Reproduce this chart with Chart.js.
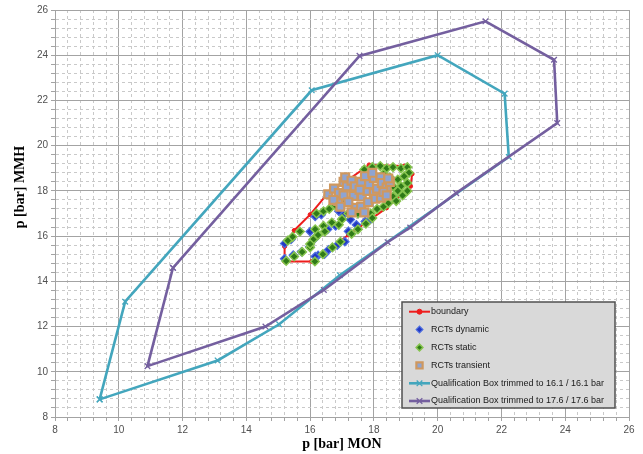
<!DOCTYPE html>
<html><head><meta charset="utf-8">
<script src="https://cdn.jsdelivr.net/npm/chart.js@4.4.1/dist/chart.umd.min.js"></script>
<style>html,body{margin:0;padding:0;background:#fff;}</style>
</head><body>
<canvas id="c" width="643" height="454"></canvas>
<script>
// ---- data ----
const xTitle = 'p [bar] MON';
const yTitle = 'p [bar] MMH';
const labels = ['boundary','RCTs dynamic','RCTs static','RCTs transient',
  'Qualification Box trimmed to 16.1 / 16.1 bar','Qualification Box trimmed to 17.6 / 17.6 bar'];

const boundaryX = [15.2,15.2,16.05,17.2,18.4,19.15,19.2,18.95,17.85,16.5,16.0,15.5,15.2];
const boundaryY = [15.55,14.88,14.88,16.05,17.25,18.2,18.75,19.1,19.15,17.8,16.95,16.25,15.55];

const dynamicX = [15.2,15.2,15.47,15.73,15.99,16.15,16.25,16.58,16.85,17.09,16.16,17.05,17.26,17.2,17.73,16.16,16.55,16.8,16.35,16.9,15.4,17.45,16.0,17.9,16.45];
const dynamicY = [15.67,15.0,15.16,15.31,15.53,15.9,15.15,15.4,15.6,15.75,16.87,16.95,16.73,16.21,16.65,15.1,16.3,16.45,16.95,17.1,15.85,16.5,16.2,16.75,15.2];

const staticX = [17.7,17.95,18.2,18.4,18.6,18.85,19.05,19.1,18.95,18.75,19.05,18.85,18.6,18.75,19.05,18.9,18.6,18.45,18.7,18.3,18.1,17.9,18.5,18.3,
  17.5,17.75,17.95,17.3,16.42,16.6,16.8,17.0,17.2,17.5,16.16,16.42,16.68,16.9,17.0,16.25,16.46,16.1,
  15.25,15.5,15.75,16.0,16.15,16.4,16.7,16.95,15.45,15.68,15.3,16.2,16.0];
const staticY = [18.95,19.05,19.1,19.0,19.05,19.0,19.05,18.8,18.65,18.5,18.35,18.2,18.2,18.0,18.0,17.8,17.75,17.45,17.55,17.3,17.2,17.0,18.6,18.75,
  16.3,16.55,16.8,16.1,17.1,17.2,17.35,17.5,17.0,17.0,16.3,16.45,16.6,16.5,16.75,16.05,16.2,15.85,
  14.9,15.1,15.3,15.5,14.88,15.2,15.5,15.75,15.97,16.2,15.8,17.0,15.65];

const transientX = [16.57,16.75,16.9,16.88,17.05,17.1,17.15,17.05,17.3,17.36,17.4,17.42,17.6,17.62,17.6,17.72,17.8,17.82,17.85,18.0,18.0,18.05,18.1,18.2,18.22,18.25,18.4,18.5,16.73,17.2,17.55,17.3,18.3,16.95,17.7,18.4,17.95,18.45];
const transientY = [17.85,18.1,17.9,17.55,18.4,18.6,18.2,17.8,18.45,17.78,18.2,17.25,18.4,17.75,17.3,18.65,18.0,17.5,18.3,18.57,17.9,17.65,18.1,18.6,17.7,18.35,18.15,18.4,17.6,17.5,18.05,17.05,17.95,17.3,17.05,17.8,18.8,18.55];

const box161X = [9.4,10.2,16.05,20.0,22.1,22.23,16.93,15.03,13.1,9.4];
const box161Y = [8.78,13.1,22.45,24.0,22.3,19.5,14.27,12.1,10.5,8.78];

const box176X = [11.7,17.55,21.5,23.65,23.75,20.58,19.14,18.43,16.43,14.6,10.9,11.7];
const box176Y = [14.6,23.97,25.5,23.8,21.0,17.9,16.38,15.73,13.62,12.0,10.25,14.6];

const axisMin = 8, axisMax = 26, minorStep = 0.4, majorStep = 2;

// ---- helpers ----
const pts = (xs, ys) => xs.map((x, i) => ({x, y: ys[i]}));
const isMajor = v => Math.abs(v / majorStep - Math.round(v / majorStep)) < 1e-6;

const styles = [
  {line:true, color:'#ee1c1c', lw:2, pointStyle:'circle', r:2, bg:'#ee1c1c', bc:'#ee1c1c', bw:1},
  {line:false, pointStyle:'rectRot', r:4.2, bg:'#2338c4', bc:'#4d6fe0', bw:1.2},
  {line:false, pointStyle:'rectRot', r:4.3, bg:'#2f7a18', bc:'#86c44e', bw:1.5},
  {line:false, pointStyle:'rect', r:5.6, bg:'#8ea4d2', bc:'#cf985f', bw:2.2},
  {line:true, color:'#43a6bd', lw:2.6, pointStyle:'crossRot', r:4, bg:'#43a6bd', bc:'#43a6bd', bw:1.3},
  {line:true, color:'#745f9f', lw:2.6, pointStyle:'crossRot', r:4, bg:'#745f9f', bc:'#745f9f', bw:1.3}
];
const legendR = [2.5, 3.4, 3.4, 4.4, 4, 4];
const seriesData = [pts(boundaryX,boundaryY), pts(dynamicX,dynamicY), pts(staticX,staticY),
  pts(transientX,transientY), pts(box161X,box161Y), pts(box176X,box176Y)];
const orders = [5,4,3,2,1,0];

const datasets = seriesData.map((d, i) => {
  const s = styles[i];
  return {
    label: labels[i], data: d, showLine: s.line, order: orders[i],
    borderColor: s.line ? s.color : s.bc, borderWidth: s.lw || 0,
    backgroundColor: s.bg,
    pointStyle: s.pointStyle, pointRadius: s.r, pointBackgroundColor: s.bg,
    pointBorderColor: s.bc, pointBorderWidth: s.bw, tension: 0
  };
});

function axis(isX) {
  return {
    type: 'linear', min: axisMin, max: axisMax,
    afterFit: s => { if (isX) s.height = 37; else s.width = 55; },
    ticks: {
      stepSize: minorStep, autoSkip: false, maxRotation: 0, padding: 3,
      color: '#505050', font: {family: '"Liberation Sans", Arial, sans-serif', size: 10},
      callback: v => isMajor(v) ? String(Math.round(v)) : ''
    },
    grid: {
      color: c => (c.tick && isMajor(c.tick.value)) ? '#a3a3a3' : '#c9c9c9',
      lineWidth: 1, drawTicks: true, tickLength: 4,
      tickColor: '#a3a3a3'
    },
    border: {
      display: true, color: '#a3a3a3', width: 1,
      dash: c => (c.tick && !isMajor(c.tick.value)) ? [3, 3] : []
    }
  };
}

const customPlugin = {
  id: 'custom',
  beforeDraw(chart) {
    const ctx = chart.ctx;
    ctx.save(); ctx.fillStyle = '#fff'; ctx.fillRect(0, 0, chart.width, chart.height); ctx.restore();
  },
  afterDraw(chart) {
    const ctx = chart.ctx, a = chart.chartArea;
    ctx.save();
    // axis titles
    ctx.fillStyle = '#000';
    ctx.font = 'bold 14px "Liberation Serif", "Times New Roman", serif';
    ctx.textAlign = 'center'; ctx.textBaseline = 'middle';
    ctx.fillText(xTitle, (a.left + a.right) / 2, 444);
    ctx.translate(20, 187); ctx.rotate(-Math.PI / 2);
    ctx.fillText(yTitle, 0, 0);
    ctx.restore();

    // legend box
    ctx.save();
    const bx = 402, by = 302, bw = 213, bh = 106;
    ctx.fillStyle = '#d9d9d9';
    ctx.fillRect(bx, by, bw, bh);
    ctx.strokeStyle = '#505050'; ctx.lineWidth = 1.5;
    ctx.strokeRect(bx, by, bw, bh);
    const rowY = [311.7, 329.6, 347.5, 365.4, 383.3, 401.0];
    chart.data.datasets.forEach((ds, i) => {
      const s = styles[i], y = rowY[i];
      if (s.line) {
        ctx.strokeStyle = s.color; ctx.lineWidth = s.lw; ctx.setLineDash([]);
        ctx.beginPath(); ctx.moveTo(409, y); ctx.lineTo(430, y); ctx.stroke();
      }
      ctx.fillStyle = s.bg; ctx.strokeStyle = s.bc; ctx.lineWidth = s.bw;
      Chart.helpers.drawPoint(ctx, {pointStyle: s.pointStyle, radius: legendR[i], rotation: 0, borderWidth: s.bw}, 419.5, y);
      ctx.fillStyle = '#1a1a1a';
      ctx.font = '9px "Liberation Sans", Arial, sans-serif';
      ctx.textAlign = 'left'; ctx.textBaseline = 'middle';
      ctx.fillText(ds.label, 431, y, 178);
    });
    ctx.restore();
  }
};

new Chart(document.getElementById('c'), {
  type: 'scatter',
  data: { datasets },
  options: {
    responsive: false, animation: false, devicePixelRatio: 1,
    layout: { padding: { left: 0, right: 14, top: 10, bottom: 0 } },
    plugins: { legend: { display: false }, tooltip: { enabled: false } },
    scales: { x: axis(true), y: axis(false) }
  },
  plugins: [customPlugin]
});
</script>
</body></html>
